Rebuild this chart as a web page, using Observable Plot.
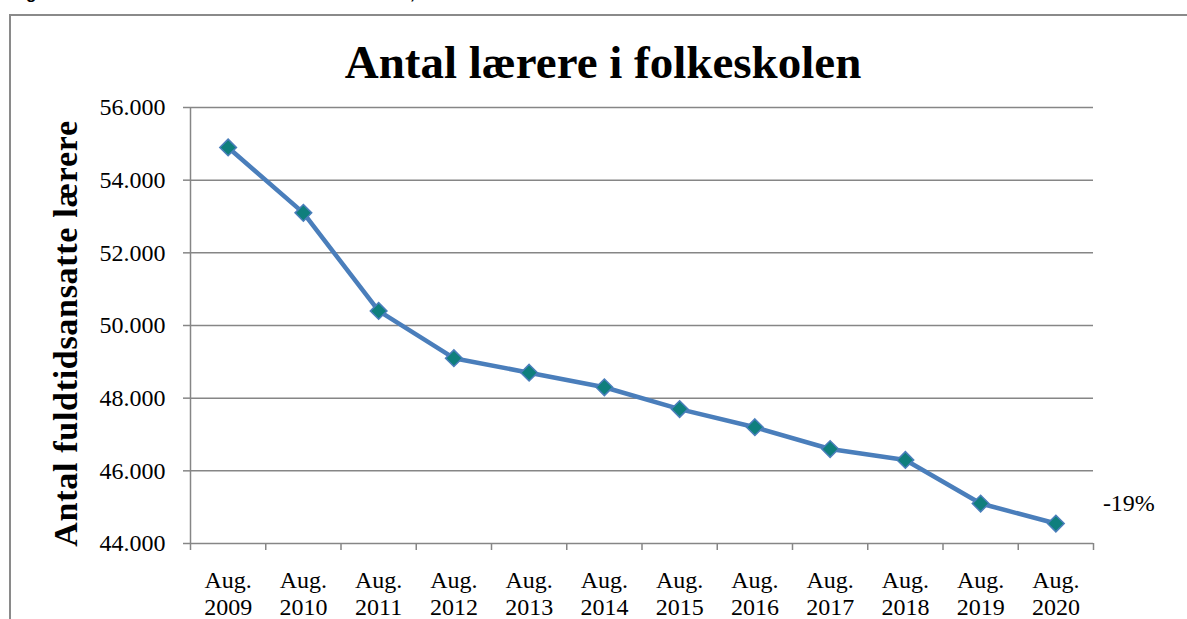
<!DOCTYPE html>
<html>
<head>
<meta charset="utf-8">
<script src="https://cdn.jsdelivr.net/npm/d3@7"></script>
<script src="https://cdn.jsdelivr.net/npm/@observablehq/plot@0.6"></script>
<style>
  html, body { margin: 0; padding: 0; background: #fff; }
  #wrap { position: relative; width: 1187px; height: 619px; overflow: hidden; background: #fff; }
  #caption { position: absolute; left: 11px; top: -15px; font: bold 17px "Liberation Sans", Arial, sans-serif; color: #000; white-space: nowrap; line-height: 1; }
  #frame { position: absolute; left: 9px; top: 14px; width: 1400px; height: 800px; border: 2px solid #8a8a8a; box-sizing: border-box; }
  #title { position: absolute; left: 603px; top: 39px; transform: translateX(-50%); font: bold 47px "Liberation Serif", "Times New Roman", serif; line-height: 1; white-space: nowrap; color: #000; }
  #chart { position: absolute; left: 0; top: 0; }
  #chart svg, #chart svg text { font-family: "Liberation Serif", "Times New Roman", serif !important; }
  #chart .ylab text { letter-spacing: 0.7px; }
</style>
</head>
<body>
<div id="wrap">
  <div id="caption">Figur 1: Antal fuldtidsansatte lærere i folkeskolen, 2009-2020</div>
  <div id="frame"></div>
  <div id="chart"></div>
  <div id="title">Antal lærere i folkeskolen</div>
</div>
<script>
const years = ["2009","2010","2011","2012","2013","2014","2015","2016","2017","2018","2019","2020"];
const teachers = [54900, 53100, 50400, 49100, 48700, 48300, 47700, 47200, 46600, 46300, 45100, 44550];
const yTicks = [44000, 46000, 48000, 50000, 52000, 54000, 56000];
const yLabel = "Antal fuldtidsansatte lærere";
const changeLabel = "-19%";

const data = years.map((y, i) => ({i, year: y, label: "Aug.\n" + y, value: teachers[i]}));
const fmt = d => d3.format(",")(d).replace(/,/g, ".");
const grey = "#868686";
const serif = "'Liberation Serif', 'Times New Roman', serif";

const chart = Plot.plot({
  width: 1187,
  height: 619,
  marginLeft: 190,
  marginRight: 94,
  marginTop: 107,
  marginBottom: 76,
  style: {fontFamily: serif, background: "transparent", color: "#000", overflow: "visible"},
  x: {domain: [0, 12], axis: null, label: null},
  y: {domain: [44000, 56000], axis: null, label: null},
  marks: [
    Plot.gridY(yTicks, {stroke: grey, strokeOpacity: 1, strokeWidth: 1.5}),
    Plot.ruleX([0], {stroke: grey, strokeWidth: 1.5}),
    Plot.axisY(yTicks, {tickSize: 7, tickPadding: 18, tickFormat: fmt, fontSize: 24, stroke: grey, strokeWidth: 1.5, label: null, fontFamily: serif}),
    Plot.axisX(d3.range(13), {tickSize: 7, tickFormat: () => "", stroke: grey, strokeWidth: 1.5, label: null}),
    Plot.text(data, {x: d => d.i + 0.5, frameAnchor: "bottom", text: "label", lineAnchor: "top", dy: 25, lineHeight: 1.125, fontSize: 24, fill: "#000", fontFamily: serif}),
    Plot.line(data, {x: d => d.i + 0.5, y: "value", stroke: "#4A7EBB", strokeWidth: 4.5}),
    Plot.dot(data, {x: d => d.i + 0.5, y: "value", symbol: "diamond2", r: 7.5, fill: "#0F7F7D", stroke: "#4A7EBB", strokeWidth: 1.5}),
    Plot.text([data[data.length - 1]], {x: d => d.i + 0.5, y: "value", text: () => changeLabel, dx: 47, dy: -20, textAnchor: "start", fontSize: 24, fill: "#000", fontFamily: serif}),
    Plot.text([yLabel], {frameAnchor: "left", textAnchor: "middle", rotate: -90, dx: -124, dy: 8, fontSize: 34, fontWeight: "bold", fill: "#000", fontFamily: serif, className: "ylab"})
  ]
});
document.getElementById("chart").appendChild(chart);
</script>
</body>
</html>
